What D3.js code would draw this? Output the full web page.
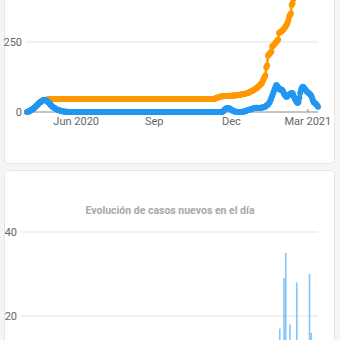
<!DOCTYPE html>
<html>
<head>
<meta charset="utf-8">
<script src="https://cdn.jsdelivr.net/npm/d3@7"></script>
<style>
  html, body { margin: 0; padding: 0; background: #f5f5f5; }
  svg { display: block; font-family: Roboto, "Noto Sans", sans-serif; }
</style>
</head>
<body>
<svg id="chart" width="340" height="340"></svg>
<script>
// ---------- DATA ----------
const startDate = "2020-04-04";           // first daily sample
// Top chart: active cases (blue) and total cases (orange), one value per day
const activeCases = [
  0,1,2,4,5,7,9,11,13,16,19,22,25,28,31,34,36,38,40,42,
  43,43,42,40,38,35,32,29,25,22,19,17,15,13,11,9,8,7,6,5,4,3,3,2,2,1,1,1,1,0,0,
  0,0,0,0,0,0,0,0,0,0, 0,0,0,0,0,0,0,0,0,0, 0,0,0,0,0,0,0,0,0,0, 0,0,0,0,0,0,0,0,0,0,
  0,0,0,0,0,0,0,0,0,0, 0,0,0,0,0,0,0,0,0,0, 0,0,0,0,0,0,0,0,0,0, 0,0,0,0,0,0,0,0,0,0,
  0,0,0,0,0,0,0,0,0,0, 0,0,0,0,0,0,0,0,0,0, 0,0,0,0,0,0,0,0,0,0, 0,0,0,0,0,0,0,0,0,0,
  0,0,0,0,0,0,0,0,0,0, 0,0,0,0,0,0,0,0,0,0, 0,0,0,0,0,0,0,0,0,0, 0,0,0,0,0,0,0,0,0,0,
  0,0,0,0,0,0,0,0,0,0, 0,0,0,0,0,0,0,0,0,0,
  2,5,8,11,13,14,14,13,12,10,8,6,4,3,2,1,1,0,
  0,0,0,0,0,1,1,2,3,4,5,6,7,8,9,10,11,12,13,14,14,15,15,14,14,14,15,15,16,16,17,18,
  20,22,24,27,30,35,42,50,58,66,74,82,90,96,93,88,84,80,79,80,78,72,65,60,56,54,56,60,62,64,
  66,68,67,60,52,45,40,35,32,36,50,68,80,86,90,88,84,80,76,73,70,68,65,62,58,50,42,35,32,30,27,23,19
];
const totalCases = [
  0,1,2,4,5,7,9,11,13,16,19,22,25,28,31,34,36,38,40,42,43,43,
  44,44,45,45,46,46,46,46,46,
  46,46,46,46,46,46,46,46,46,46, 46,46,46,46,46,46,46,46,46,46, 46,46,46,46,46,46,46,46,46,46,
  46,46,46,46,46,46,46,46,46,46, 46,46,46,46,46,46,46,46,46,46, 46,46,46,46,46,46,46,46,46,46,
  46,46,46,46,46,46,46,46,46,46, 46,46,46,46,46,46,46,46,46,46, 46,46,46,46,46,46,46,46,46,46,
  46,46,46,46,46,46,46,46,46,46, 46,46,46,46,46,46,46,46,46,46, 46,46,46,46,46,46,46,46,46,46,
  46,46,46,46,46,46,46,46,46,46, 46,46,46,46,46,46,46,46,46,46, 46,46,46,46,46,46,46,46,46,46,
  46,46,46,46,46,46,46,46,46,46, 46,46,46,46,46,46,46,46,46,46, 46,46,46,46,46,46,46,46,46,46,
  46,46,46,46,46,46,46,46,46,46,
  47,48,50,51,52,53,54,55,55,56,
  56,56,57,57,57,57,57,58,58,58, 58,58,59,59,59,59,60,60,61,61,
  62,62,63,63,64,64,65,66,67,68, 69,70,72,73,75,77,78,80,82,84,
  86,89,92,95,98,101,104,112,118,124,130,159,166,201,205,208,212,216,234,237,
  240,243,247,251,255,258,282,284,286,288,290,294,298,302,306,312,318,326,340,346,
  352,382,388,404,410,416,422,428,434,440,446,452,458,464,470,476,482,488,494
];
const topTicksY = [0, 250];
const topTicksX = ["2020-06-01", "2020-09-01", "2020-12-01", "2021-03-01"];
const topTickLabels = ["Jun 2020", "Sep", "Dec", "Mar 2021"];

// Bottom chart: new cases per day (days with cases)
const newCaseDates = [
  "2020-04-06","2020-04-09","2020-04-12","2020-04-15","2020-04-18","2020-04-21","2020-04-24",
  "2020-12-05","2020-12-07","2020-12-10",
  "2021-01-10","2021-01-18","2021-01-25","2021-02-01","2021-02-05","2021-02-09","2021-02-12",
  "2021-01-27","2021-02-01","2021-02-03","2021-02-08","2021-02-16","2021-03-03","2021-03-05"
];
const newCaseValues = [
  2,3,3,4,3,2,1,
  3,2,2,
  1,2,3,4,5,6,8,
  17,29,35,18,28,30,16
];
const bottomTicksY = [20, 40];
const bottomTitle = "Evolución de casos nuevos en el día";

// ---------- DRAW ----------
const svg = d3.select("#chart");
const parse = d3.timeParse("%Y-%m-%d");
const t0 = parse(startDate);
const nDays = activeCases.length;
const dates = d3.range(nDays).map(i => d3.timeDay.offset(t0, i));

// cards
svg.append("rect").attr("x", 4.5).attr("y", -20).attr("width", 330).attr("height", 183.5)
  .attr("rx", 4).attr("fill", "#fff").attr("stroke", "#e6e6e6");
svg.append("rect").attr("x", 4.5).attr("y", 170.5).attr("width", 330).attr("height", 200)
  .attr("rx", 4).attr("fill", "#fff").attr("stroke", "#e6e6e6");

// ---- top chart ----
const x = d3.scaleTime().domain([dates[0], dates[nDays - 1]]).range([27, 318]);
const yTop = d3.scaleLinear().domain([0, 250]).range([112, 42]);

const gTop = svg.append("g");
gTop.selectAll("line.grid").data(topTicksY.filter(v => v !== 0)).join("line")
  .attr("x1", 26).attr("x2", 318)
  .attr("y1", d => yTop(d)).attr("y2", d => yTop(d))
  .attr("stroke", "#e3e3e3").attr("stroke-width", 1);
gTop.append("line").attr("x1", 27).attr("x2", 318)
  .attr("y1", yTop(0)).attr("y2", yTop(0)).attr("stroke", "#8a8a8a").attr("stroke-width", 1);
gTop.selectAll("line.tick").data(topTicksX).join("line")
  .attr("x1", d => x(parse(d))).attr("x2", d => x(parse(d)))
  .attr("y1", yTop(0) - 3).attr("y2", yTop(0))
  .attr("stroke", "#8a8a8a");
gTop.selectAll("text.yl").data(topTicksY).join("text")
  .attr("x", 22).attr("y", d => yTop(d)).attr("dy", "0.35em")
  .attr("text-anchor", "end").attr("font-size", 11).attr("fill", "#666")
  .text(d => d);
gTop.selectAll("text.xl").data(topTicksX).join("text")
  .attr("x", d => x(parse(d))).attr("y", 125)
  .attr("text-anchor", "middle").attr("font-size", 11).attr("fill", "#666")
  .text((d, i) => topTickLabels[i]);

function drawSeries(vals, color) {
  const pts = vals.map((v, i) => [x(dates[i]), yTop(v)]);
  gTop.append("path").attr("d", d3.line()(pts)).attr("fill", "none")
    .attr("stroke", color).attr("stroke-width", 2.5);
  gTop.append("g").selectAll("circle").data(pts).join("circle")
    .attr("cx", d => d[0]).attr("cy", d => d[1]).attr("r", 3).attr("fill", color);
}
drawSeries(totalCases, "#ff9800");
drawSeries(activeCases, "#2196f3");

// ---- bottom chart ----
const yBot = d3.scaleLinear().domain([0, 40]).range([400, 232]);
const gBot = svg.append("g");
gBot.append("text").attr("x", 170).attr("y", 210).attr("dy", "0.35em")
  .attr("text-anchor", "middle").attr("font-size", 10.5).attr("font-weight", "bold")
  .attr("fill", "#a8a8a8").text(bottomTitle);
gBot.selectAll("line.grid").data(bottomTicksY).join("line")
  .attr("x1", 21).attr("x2", 318)
  .attr("y1", d => yBot(d)).attr("y2", d => yBot(d))
  .attr("stroke", "#e3e3e3");
gBot.selectAll("text.yl").data(bottomTicksY).join("text")
  .attr("x", 17).attr("y", d => yBot(d)).attr("dy", "0.35em")
  .attr("text-anchor", "end").attr("font-size", 11).attr("fill", "#666")
  .text(d => d);
gBot.selectAll("rect.bar").data(newCaseDates.map((d, i) => ({ d: parse(d), v: newCaseValues[i] })))
  .join("rect")
  .attr("x", d => x(d.d) - 0.8).attr("width", 1.6)
  .attr("y", d => yBot(d.v)).attr("height", d => yBot(0) - yBot(d.v))
  .attr("fill", "rgba(33,150,243,0.55)");
</script>
</body>
</html>
